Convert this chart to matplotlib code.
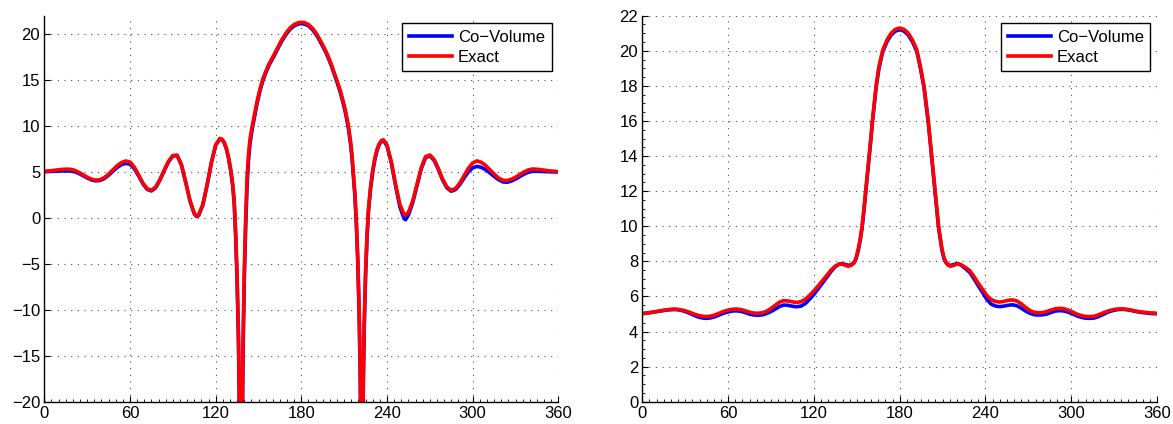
import matplotlib
matplotlib.use('Agg')
import matplotlib.pyplot as plt
from matplotlib.ticker import MultipleLocator

plt.rcParams['font.family'] = ['Liberation Sans', 'DejaVu Sans']

# left panel: angle (deg) and pattern (dB)
left_deg = [
    0, 3, 6, 9, 12, 15, 18, 21, 24, 27,
    30, 33, 36, 39, 42, 45, 48, 51, 54, 57,
    60, 63, 66, 69, 72, 75, 78, 81, 84, 87,
    90, 93, 96, 99, 102, 105, 106.5, 108, 111, 114,
    117, 120, 123, 124.5, 126, 127.5, 129, 130.5, 132, 133,
    134, 135, 136, 136.8, 137.4, 137.7, 138, 138.6, 139.2, 140,
    141, 142, 143, 144, 145, 146, 147.5, 149, 151, 153,
    155, 157.5, 160, 163, 166, 169, 172, 175, 178, 180,
    182, 185, 188, 191, 194, 197, 199, 201, 203, 205,
    207, 209, 211, 213, 214.5, 215.5, 216.5, 217.5, 218.5, 219.5,
    220.5, 221.3, 222, 222.4, 222.8, 223.4, 224, 225, 226, 227,
    228.5, 230, 231.5, 233, 234.5, 236, 237.5, 240, 243, 246,
    249, 252, 253, 255, 258, 261, 264, 267, 270, 273,
    276, 279, 282, 285, 288, 291, 294, 297, 300, 303,
    306, 309, 312, 315, 318, 321, 324, 327, 330, 333,
    336, 339, 342, 345, 348, 351, 354, 357, 360,
]
left_exact = [
    5.05, 5.10, 5.16, 5.22, 5.27, 5.30, 5.29, 5.19, 4.97, 4.70,
    4.43, 4.21, 4.11, 4.15, 4.38, 4.76, 5.23, 5.68, 6.02, 6.19,
    6.08, 5.53, 4.68, 3.80, 3.18, 3.01, 3.37, 4.19, 5.21, 6.16,
    6.78, 6.83, 5.79, 3.90, 1.88, 0.49, 0.20, 0.28, 1.44, 3.60,
    6.04, 7.94, 8.65, 8.55, 8.22, 7.60, 6.60, 5.30, 3.60, 1.80,
    -1.6, -6.3, -13.0, -22.0, -32.0, -45.0, -40.0, -21.8, -13.2, -6.0,
    0.0, 4.4, 6.9, 8.5, 9.5, 10.3, 11.5, 12.7, 14.0, 15.1,
    15.9, 16.8, 17.5, 18.4, 19.3, 20.05, 20.65, 21.05, 21.25, 21.28,
    21.25, 21.05, 20.6, 19.95, 19.1, 18.2, 17.5, 16.7, 15.8, 14.9,
    14.0, 12.86, 11.6, 10.0, 8.3, 6.8, 4.8, 2.7, -0.3, -4.3,
    -10.0, -17.3, -30.9, -45.0, -28.4, -17.3, -11.6, -5.8, -1.9, 1.0,
    3.4, 5.2, 6.5, 7.45, 8.05, 8.4, 8.5, 7.93, 6.10, 3.65,
    1.48, 0.35, 0.30, 0.60, 1.85, 3.66, 5.47, 6.66, 6.85, 6.35,
    5.35, 4.20, 3.35, 3.00, 3.20, 3.80, 4.60, 5.40, 5.98, 6.20,
    6.05, 5.72, 5.25, 4.78, 4.35, 4.10, 4.06, 4.20, 4.42, 4.71,
    5.00, 5.22, 5.32, 5.29, 5.24, 5.17, 5.11, 5.07, 5.04,
]
left_covol = [
    5.03, 5.05, 5.07, 5.09, 5.10, 5.11, 5.10, 5.03, 4.85, 4.60,
    4.35, 4.13, 4.03, 4.07, 4.28, 4.64, 5.07, 5.48, 5.79, 5.93,
    5.84, 5.36, 4.57, 3.72, 3.10, 2.93, 3.28, 4.12, 5.15, 6.11,
    6.73, 6.78, 5.76, 3.88, 1.85, 0.45, 0.15, 0.24, 1.40, 3.56,
    6.00, 7.90, 8.60, 8.50, 8.15, 7.50, 6.50, 5.15, 3.40, 1.50,
    -2.0, -6.9, -13.8, -23.0, -33.0, -45.0, -42.0, -23.5, -14.5, -7.0,
    -1.0, 3.6, 6.3, 8.0, 9.1, 10.0, 11.25, 12.45, 13.8, 14.9,
    15.75, 16.65, 17.35, 18.25, 19.15, 19.9, 20.5, 20.9, 21.1, 21.13,
    21.1, 20.9, 20.45, 19.8, 18.95, 18.05, 17.35, 16.55, 15.65, 14.75,
    13.8, 12.65, 11.35, 9.7, 8.0, 6.5, 4.5, 2.4, -0.6, -4.7,
    -10.5, -18.0, -32.0, -45.0, -30.0, -18.2, -12.2, -6.2, -2.2, 0.7,
    3.2, 5.0, 6.35, 7.3, 7.95, 8.3, 8.4, 7.83, 6.0, 3.5,
    1.2, -0.1, -0.2, 0.3, 1.65, 3.5, 5.35, 6.55, 6.75, 6.25,
    5.25, 4.1, 3.25, 2.9, 3.08, 3.62, 4.35, 5.0, 5.45, 5.6,
    5.5, 5.25, 4.9, 4.52, 4.17, 3.92, 3.87, 4.0, 4.22, 4.5,
    4.76, 4.97, 5.07, 5.07, 5.05, 5.03, 5.02, 5.0, 5.0,
]

# right panel
right_deg = [
    0, 3, 6, 9, 12, 15, 18, 21, 24, 27,
    30, 33, 36, 39, 42, 45, 48, 51, 54, 57,
    60, 63, 66, 69, 72, 75, 78, 81, 84, 87,
    90, 93, 96, 99, 102, 105, 108, 111, 114, 117,
    120, 123, 126, 129, 132, 135, 138, 140, 142, 144,
    146, 148, 149.5, 151, 152.5, 153.7, 155, 156.2, 157.4, 158.6,
    159.8, 160.9, 162.2, 163.5, 165.5, 168, 171, 174, 177, 180,
    183, 186, 189, 192, 194.5, 197, 198.5, 200, 201.2, 202.4,
    203.6, 204.8, 206, 207.2, 208.4, 209.6, 211, 212.5, 214, 215.5,
    217.5, 219.5, 221, 223, 226, 229, 232, 235, 238, 241,
    244, 247, 250, 253, 256, 259, 262, 265, 268, 271,
    274, 277, 280, 283, 286, 289, 292, 295, 298, 301,
    304, 307, 310, 313, 316, 319, 322, 325, 328, 331,
    334, 337, 340, 343, 346, 349, 352, 355, 358, 360,
]
right_exact = [
    5.02, 5.05, 5.09, 5.13, 5.17, 5.21, 5.25, 5.27, 5.27, 5.24,
    5.18, 5.10, 5.00, 4.92, 4.87, 4.85, 4.88, 4.95, 5.05, 5.15,
    5.22, 5.27, 5.28, 5.25, 5.18, 5.10, 5.05, 5.04, 5.07, 5.16,
    5.31, 5.50, 5.68, 5.76, 5.74, 5.69, 5.66, 5.70, 5.84, 6.06,
    6.32, 6.60, 6.90, 7.20, 7.50, 7.73, 7.85, 7.83, 7.77, 7.72,
    7.77, 7.90, 8.20, 8.70, 9.35, 10.0, 11.0, 12.0, 13.0, 14.0,
    15.0, 16.0, 17.0, 18.0, 19.1, 20.0, 20.6, 21.0, 21.22, 21.3,
    21.22, 21.0, 20.6, 20.05, 19.1, 18.0, 17.0, 16.0, 15.0, 14.0,
    13.0, 12.0, 11.0, 10.0, 9.35, 8.7, 8.2, 7.92, 7.77, 7.72,
    7.76, 7.83, 7.85, 7.80, 7.65, 7.47, 7.13, 6.75, 6.40, 6.05,
    5.82, 5.71, 5.68, 5.72, 5.78, 5.80, 5.74, 5.58, 5.38, 5.20,
    5.10, 5.07, 5.08, 5.14, 5.23, 5.30, 5.32, 5.30, 5.22, 5.11,
    4.99, 4.91, 4.86, 4.85, 4.87, 4.95, 5.05, 5.15, 5.22, 5.27,
    5.29, 5.28, 5.25, 5.20, 5.15, 5.12, 5.09, 5.06, 5.05, 5.04,
]
right_covol = [
    5.02, 5.05, 5.08, 5.12, 5.16, 5.20, 5.23, 5.25, 5.25, 5.21,
    5.14, 5.04, 4.93, 4.83, 4.77, 4.75, 4.78, 4.85, 4.95, 5.05,
    5.12, 5.17, 5.18, 5.15, 5.08, 4.99, 4.94, 4.93, 4.95, 5.03,
    5.14, 5.28, 5.43, 5.51, 5.49, 5.44, 5.41, 5.45, 5.59, 5.84,
    6.12, 6.43, 6.76, 7.09, 7.42, 7.70, 7.85, 7.86, 7.82, 7.77,
    7.80, 7.92, 8.15, 8.60, 9.25, 9.90, 10.9, 11.9, 12.9, 13.9,
    14.9, 15.9, 16.9, 17.9, 19.0, 19.9, 20.5, 20.9, 21.12, 21.2,
    21.12, 20.9, 20.5, 19.95, 19.0, 17.9, 16.9, 15.9, 14.9, 13.9,
    12.9, 11.9, 10.9, 9.9, 9.25, 8.6, 8.15, 7.92, 7.80, 7.77,
    7.81, 7.86, 7.86, 7.78, 7.58, 7.37, 7.0, 6.6, 6.22, 5.82,
    5.56, 5.45, 5.42, 5.45, 5.50, 5.52, 5.47, 5.33, 5.17, 5.04,
    4.96, 4.94, 4.95, 5.00, 5.09, 5.17, 5.19, 5.17, 5.10, 5.00,
    4.89, 4.81, 4.76, 4.75, 4.77, 4.85, 4.96, 5.08, 5.17, 5.23,
    5.26, 5.26, 5.23, 5.18, 5.13, 5.09, 5.06, 5.03, 5.02, 5.01,
]

x_ticks = [0, 60, 120, 180, 240, 300, 360]
left_yticks = [-20, -15, -10, -5, 0, 5, 10, 15, 20]
right_yticks = [0, 2, 4, 6, 8, 10, 12, 14, 16, 18, 20, 22]
labels = ['Co\u2212Volume', 'Exact']


def style(ax, ylim, yticks, yminor=None):
    ax.set_xlim(0, 360)
    ax.set_ylim(*ylim)
    ax.set_xticks(x_ticks)
    ax.set_yticks(yticks)
    ax.xaxis.set_minor_locator(MultipleLocator(5))
    if yminor:
        ax.yaxis.set_minor_locator(MultipleLocator(yminor))
    ax.grid(True, which='major', color='0.3', linestyle=(0, (1, 5)), linewidth=0.8)
    ax.spines['top'].set_visible(False)
    ax.spines['right'].set_visible(False)
    for s in ('left', 'bottom'):
        ax.spines[s].set_linewidth(1.0)
    ax.tick_params(which='major', direction='in', length=4, width=0.8, labelsize=12, pad=3)
    ax.tick_params(which='minor', direction='in', length=2, width=0.6)
    ax.set_axisbelow(True)


fig = plt.figure(figsize=(11.73, 4.24), dpi=100)
ax1 = fig.add_axes([0.0378, 0.0526, 0.4382, 0.9104])
ax2 = fig.add_axes([0.5476, 0.0526, 0.4388, 0.9104])

for ax, deg, cv, ex in [(ax1, left_deg, left_covol, left_exact),
                        (ax2, right_deg, right_covol, right_exact)]:
    ax.plot(deg, cv, color='#0000ff', lw=2.6, label=labels[0])
    ax.plot(deg, ex, color='#ff0000', lw=2.6, label=labels[1])
    leg = ax.legend(loc='upper right', bbox_to_anchor=(0.987, 0.981), borderaxespad=0,
                    fontsize=12, handlelength=2.6, handletextpad=0.35, labelspacing=0.3,
                    borderpad=0.4, fancybox=False, framealpha=1, edgecolor='black')
    leg.get_frame().set_linewidth(1.0)

style(ax1, (-20, 22), left_yticks)
style(ax2, (0, 22), right_yticks, yminor=0.5)

fig.savefig('out.png', dpi=100)
